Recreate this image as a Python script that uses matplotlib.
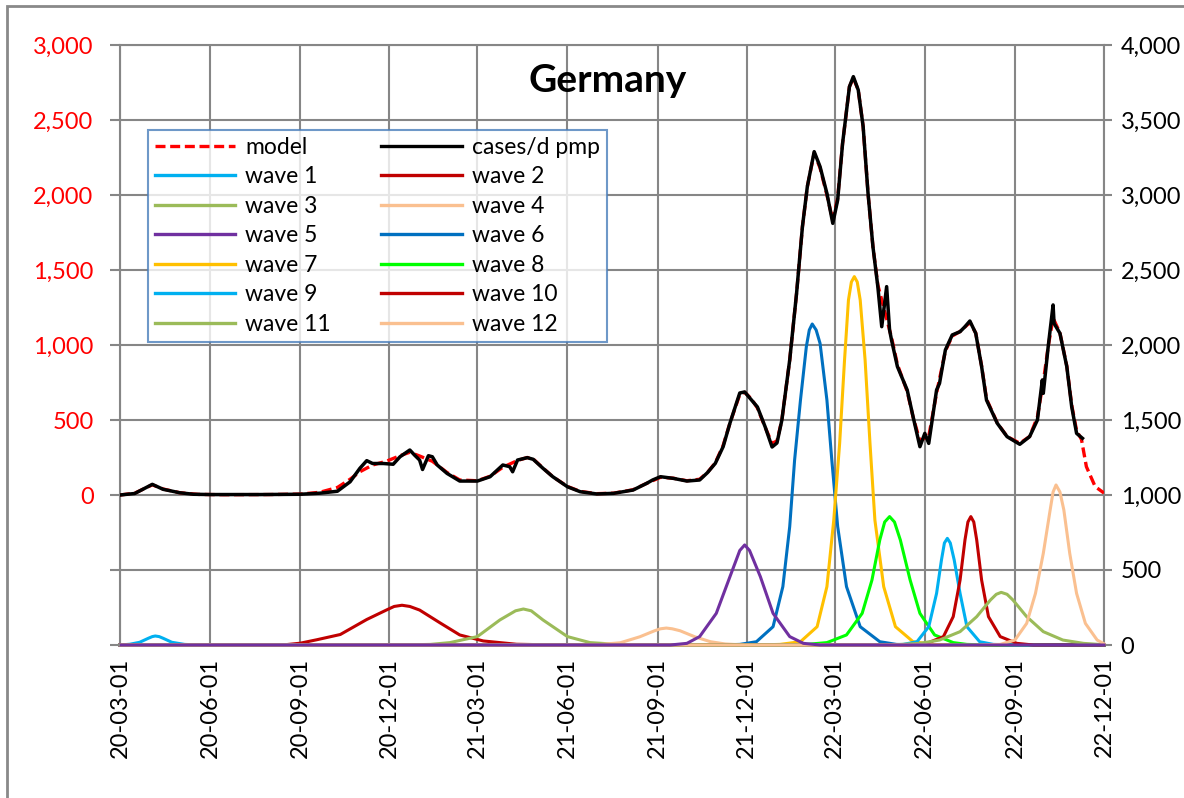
import matplotlib
matplotlib.use("Agg")
import numpy as np
import pandas as pd
import matplotlib.pyplot as plt
import matplotlib.dates as mdates
from matplotlib.ticker import FuncFormatter, MultipleLocator
from matplotlib.lines import Line2D
from matplotlib.patches import Rectangle

plt.rcParams['font.family'] = ['Lato', 'DejaVu Sans']

# ---------------------------------------------------------------------------
# data
# ---------------------------------------------------------------------------
cases_dates = ["2020-03-01", "2020-03-16", "2020-04-03", "2020-04-14", "2020-05-01", "2020-05-15",
               "2020-06-01", "2020-07-22", "2020-09-01", "2020-09-21", "2020-10-09", "2020-10-22",
               "2020-11-01", "2020-11-08", "2020-11-14", "2020-11-25", "2020-12-05", "2020-12-12",
               "2020-12-22", "2020-12-27", "2021-01-01", "2021-01-04", "2021-01-10", "2021-01-14",
               "2021-01-19", "2021-01-29", "2021-02-11", "2021-03-01", "2021-03-14", "2021-03-27",
               "2021-04-03", "2021-04-06", "2021-04-11", "2021-04-21", "2021-04-27", "2021-05-07",
               "2021-05-17", "2021-06-01", "2021-06-14", "2021-07-01", "2021-07-18", "2021-08-07",
               "2021-08-21", "2021-08-27", "2021-09-04", "2021-09-17", "2021-10-01", "2021-10-14",
               "2021-10-22", "2021-10-30", "2021-11-07", "2021-11-14", "2021-11-24", "2021-11-29",
               "2021-12-06", "2021-12-12", "2021-12-20", "2021-12-27", "2022-01-01", "2022-01-06",
               "2022-01-14", "2022-01-21", "2022-01-27", "2022-02-01", "2022-02-08", "2022-02-14",
               "2022-02-21", "2022-02-27", "2022-03-04", "2022-03-09", "2022-03-16", "2022-03-20",
               "2022-03-25", "2022-03-30", "2022-04-04", "2022-04-09", "2022-04-14", "2022-04-18",
               "2022-04-23", "2022-04-26", "2022-04-28", "2022-05-04", "2022-05-14", "2022-05-20",
               "2022-05-27", "2022-06-01", "2022-06-05", "2022-06-13", "2022-06-16", "2022-06-22",
               "2022-06-29", "2022-07-07", "2022-07-12", "2022-07-17", "2022-07-23", "2022-07-29",
               "2022-08-03", "2022-08-14", "2022-08-24", "2022-09-06", "2022-09-16", "2022-09-24",
               "2022-09-29", "2022-09-30", "2022-10-05", "2022-10-10", "2022-10-11", "2022-10-17",
               "2022-10-24", "2022-10-29", "2022-11-03", "2022-11-09"]
cases_vals = [0, 10, 71, 38, 15, 5,
              3, 3, 5, 12, 25, 88,
              178, 229, 210, 210, 205, 255,
              300, 265, 233, 170, 262, 255,
              200, 144, 93, 93, 122, 200,
              189, 155, 233, 249, 238, 178,
              122, 55, 22, 7, 11, 33,
              78, 100, 122, 111, 93, 100,
              149, 211, 322, 480, 680, 687,
              633, 587, 453, 320, 347, 500,
              900, 1344, 1789, 2056, 2289, 2189,
              2011, 1811, 1967, 2344, 2722, 2789,
              2700, 2456, 2011, 1656, 1389, 1122,
              1389, 1100, 1033, 856, 700, 522,
              322, 411, 344, 700, 744, 967,
              1067, 1089, 1122, 1160, 1078, 856,
              633, 478, 389, 338, 389, 500,
              767, 678, 989, 1267, 1144, 1078,
              856, 589, 411, 378]

model_dates = ["2020-03-01", "2020-03-16", "2020-04-03", "2020-04-14", "2020-05-01", "2020-05-20",
               "2020-06-15", "2020-08-01", "2020-09-01", "2020-09-21", "2020-10-09", "2020-10-22",
               "2020-11-01", "2020-11-14", "2020-11-28", "2020-12-12", "2020-12-22", "2021-01-01",
               "2021-01-14", "2021-01-29", "2021-02-11", "2021-03-01", "2021-03-14", "2021-03-27",
               "2021-04-11", "2021-04-21", "2021-04-27", "2021-05-07", "2021-05-17", "2021-06-01",
               "2021-06-14", "2021-07-01", "2021-07-18", "2021-08-07", "2021-08-21", "2021-09-04",
               "2021-09-17", "2021-10-01", "2021-10-14", "2021-10-22", "2021-10-30", "2021-11-07",
               "2021-11-14", "2021-11-24", "2021-11-29", "2021-12-06", "2021-12-12", "2021-12-20",
               "2021-12-27", "2022-01-01", "2022-01-06", "2022-01-14", "2022-01-21", "2022-01-27",
               "2022-02-01", "2022-02-08", "2022-02-14", "2022-02-21", "2022-02-27", "2022-03-04",
               "2022-03-09", "2022-03-16", "2022-03-20", "2022-03-25", "2022-03-30", "2022-04-04",
               "2022-04-09", "2022-04-14", "2022-04-20", "2022-04-28", "2022-05-04", "2022-05-14",
               "2022-05-20", "2022-05-27", "2022-06-01", "2022-06-05", "2022-06-13", "2022-06-22",
               "2022-06-29", "2022-07-07", "2022-07-12", "2022-07-17", "2022-07-23", "2022-07-29",
               "2022-08-03", "2022-08-14", "2022-08-24", "2022-09-06", "2022-09-16", "2022-09-24",
               "2022-10-01", "2022-10-05", "2022-10-10", "2022-10-17", "2022-10-24", "2022-10-29",
               "2022-11-03", "2022-11-08", "2022-11-13", "2022-11-22", "2022-12-01"]
model_vals = [0, 12, 68, 40, 15, 4,
              2, 3, 6, 18, 50, 105,
              155, 200, 225, 262, 285, 260,
              225, 150, 100, 95, 125, 185,
              230, 250, 240, 180, 122, 57,
              24, 9, 12, 35, 78, 118,
              112, 95, 105, 150, 215, 330,
              480, 670, 685, 640, 580, 450,
              345, 360, 500, 900, 1344, 1789,
              2056, 2280, 2180, 2000, 1830, 1980,
              2344, 2722, 2780, 2700, 2456, 2011,
              1656, 1400, 1250, 1050, 870, 690,
              520, 360, 380, 390, 680, 960,
              1060, 1090, 1120, 1150, 1080, 860,
              640, 480, 390, 345, 390, 520,
              800, 990, 1180, 1080, 860, 600,
              430, 370, 189, 56, 13]

wave1_dates = ["2020-03-01", "2020-03-11", "2020-03-21", "2020-03-30", "2020-04-03", "2020-04-06",
               "2020-04-10", "2020-04-14", "2020-04-23", "2020-05-06", "2020-05-22", "2022-12-01"]
wave1_vals = [0, 5, 18, 45, 56, 60, 56, 45, 18, 4, 0, 0]

wave2_dates = ["2020-03-01", "2020-08-14", "2020-09-01", "2020-09-18", "2020-10-12", "2020-11-08",
               "2020-11-29", "2020-12-06", "2020-12-14", "2020-12-22", "2021-01-01", "2021-01-22",
               "2021-02-11", "2021-03-07", "2021-04-10", "2021-05-24", "2022-12-01"]
wave2_vals = [0, 0, 12, 35, 70, 170, 236, 257, 265, 257, 233, 147,
              67, 27, 5, 0, 0]

wave3_dates = ["2020-03-01", "2020-12-12", "2021-01-12", "2021-02-01", "2021-03-01", "2021-03-24",
               "2021-04-09", "2021-04-17", "2021-04-25", "2021-05-07", "2021-06-01", "2021-06-24",
               "2021-07-25", "2021-08-24", "2022-12-01"]
wave3_vals = [0, 0, 4, 16, 56, 167, 228, 240, 228, 167, 56, 16, 3, 0, 0]

wave4_dates = ["2020-03-01", "2021-06-04", "2021-07-04", "2021-07-25", "2021-08-14", "2021-08-29",
               "2021-09-04", "2021-09-10", "2021-09-16", "2021-09-24", "2021-10-09", "2021-10-25",
               "2021-11-09", "2021-11-29", "2022-12-01"]
wave4_vals = [0, 0, 3, 15, 55, 95, 108, 113, 108, 95, 55, 22, 7, 0, 0]

wave5_dates = ["2020-03-01", "2021-09-14", "2021-10-01", "2021-10-14", "2021-10-31", "2021-11-14",
               "2021-11-24", "2021-11-29", "2021-12-04", "2021-12-15", "2021-12-28", "2022-01-14",
               "2022-01-28", "2022-02-14", "2022-12-01"]
wave5_vals = [0, 0, 11, 56, 211, 456, 630, 667, 630, 456, 211, 56, 11, 0, 0]

wave6_dates = ["2020-03-01", "2021-11-01", "2021-11-24", "2021-12-11", "2021-12-28", "2022-01-07",
               "2022-01-14", "2022-01-19", "2022-01-25", "2022-01-31", "2022-02-03", "2022-02-06",
               "2022-02-10", "2022-02-14", "2022-02-21", "2022-02-26", "2022-03-04", "2022-03-13",
               "2022-03-27", "2022-04-16", "2022-05-03", "2022-05-25", "2022-12-01"]
wave6_vals = [0, 0, 4, 22, 122, 389, 789, 1233, 1633, 1989, 2100, 2140,
              2100, 2011, 1633, 1233, 789, 389, 122, 22, 4, 0, 0]

wave7_dates = ["2020-03-01", "2021-12-10", "2022-01-04", "2022-01-25", "2022-02-11", "2022-02-21",
               "2022-02-28", "2022-03-06", "2022-03-11", "2022-03-15", "2022-03-18", "2022-03-21",
               "2022-03-24", "2022-03-27", "2022-04-01", "2022-04-06", "2022-04-11", "2022-04-20",
               "2022-05-02", "2022-05-20", "2022-06-09", "2022-07-01", "2022-12-01"]
wave7_vals = [0, 0, 4, 22, 122, 389, 833, 1344, 1900, 2300, 2420, 2456,
              2420, 2300, 1900, 1344, 833, 389, 122, 22, 4, 0, 0]

wave8_dates = ["2020-03-01", "2022-01-05", "2022-01-31", "2022-02-21", "2022-03-13", "2022-03-29",
               "2022-04-08", "2022-04-16", "2022-04-21", "2022-04-26", "2022-05-01", "2022-05-07",
               "2022-05-17", "2022-05-27", "2022-06-11", "2022-06-30", "2022-07-14", "2022-08-05",
               "2022-12-01"]
wave8_vals = [0, 0, 4, 16, 67, 211, 433, 700, 820, 856, 820, 700,
              433, 211, 67, 16, 4, 0, 0]

wave9_dates = ["2020-03-01", "2022-04-15", "2022-05-10", "2022-05-24", "2022-06-05", "2022-06-13",
               "2022-06-18", "2022-06-21", "2022-06-24", "2022-06-27", "2022-07-01", "2022-07-07",
               "2022-07-14", "2022-07-27", "2022-08-10", "2022-09-01", "2022-12-01"]
wave9_vals = [0, 0, 4, 22, 122, 344, 567, 680, 711, 680, 567, 344,
              122, 22, 4, 0, 0]

wave10_dates = ["2020-03-01", "2022-05-15", "2022-06-03", "2022-06-20", "2022-06-30", "2022-07-07",
                "2022-07-12", "2022-07-15", "2022-07-18", "2022-07-21", "2022-07-24", "2022-07-29",
                "2022-08-05", "2022-08-17", "2022-09-03", "2022-09-20", "2022-12-01"]
wave10_vals = [0, 0, 11, 56, 189, 433, 700, 820, 856, 820, 700, 433,
               189, 56, 11, 0, 0]

wave11_dates = ["2020-03-01", "2022-04-01", "2022-05-03", "2022-05-27", "2022-06-16", "2022-07-07",
                "2022-07-24", "2022-08-07", "2022-08-13", "2022-08-18", "2022-08-24", "2022-08-30",
                "2022-09-13", "2022-09-30", "2022-10-20", "2022-11-10", "2022-11-30", "2022-12-01"]
wave11_vals = [0, 0, 2, 11, 33, 89, 189, 300, 338, 351, 338, 300,
               189, 89, 33, 11, 2, 2]

wave12_dates = ["2020-03-01", "2022-07-20", "2022-08-17", "2022-09-01", "2022-09-13", "2022-09-22",
                "2022-09-30", "2022-10-07", "2022-10-10", "2022-10-13", "2022-10-17", "2022-10-21",
                "2022-10-27", "2022-11-03", "2022-11-12", "2022-11-24", "2022-12-01"]
wave12_vals = [0, 0, 4, 33, 144, 344, 611, 900, 1020, 1067, 1020, 900,
               611, 344, 144, 33, 8]

wave_colors = ['#00B0F0', '#C00000', '#9BBB59', '#FAC090', '#7030A0', '#0070C0',
               '#FFC000', '#00FF00', '#00B0F0', '#C00000', '#9BBB59', '#FAC090']

waves = [(wave1_dates, wave1_vals), (wave2_dates, wave2_vals), (wave3_dates, wave3_vals),
         (wave4_dates, wave4_vals), (wave5_dates, wave5_vals), (wave6_dates, wave6_vals),
         (wave7_dates, wave7_vals), (wave8_dates, wave8_vals), (wave9_dates, wave9_vals),
         (wave10_dates, wave10_vals), (wave11_dates, wave11_vals), (wave12_dates, wave12_vals)]

# ---------------------------------------------------------------------------
W, H = 1184, 798
fig = plt.figure(figsize=(W / 100, H / 100), dpi=100)
L, R, T, B = 120, 1104, 45, 645
ax2 = fig.add_axes([L / W, 1 - B / H, (R - L) / W, (B - T) / H])
ax = ax2.twinx()
ax.yaxis.tick_left()
ax2.yaxis.tick_right()

GRID = '#868686'
FS = 17

# waves on the right-hand scale (purple drawn last so the base line shows purple)
for i, (d, v) in enumerate(waves):
    z = 3 if i == 4 else 2
    ax2.plot(pd.to_datetime(d), v, color=wave_colors[i], lw=2.2, zorder=z,
             solid_joinstyle='round', clip_on=False)

# model and cases on the left-hand scale
ax.plot(pd.to_datetime(model_dates), model_vals, color='#FF0000', lw=2.4,
        linestyle=(0, (3, 1.4)), zorder=3)
ax.plot(pd.to_datetime(cases_dates), cases_vals, color='black', lw=2.5, zorder=4,
        solid_joinstyle='round')

xmin, xmax = pd.Timestamp('2020-03-01'), pd.Timestamp('2022-12-01')
for a in (ax, ax2):
    a.set_xlim(xmin, xmax)
for s in ax.spines.values():
    s.set_visible(False)
for s in ax2.spines.values():
    s.set_color(GRID)
    s.set_linewidth(1.5)
    s.set_zorder(0.5)

ax2.set_ylim(0, 4000)
ax.set_ylim(-1000, 3000)
ax2.yaxis.set_major_locator(MultipleLocator(500))
ax.yaxis.set_major_locator(MultipleLocator(500))
ax2.yaxis.set_major_formatter(FuncFormatter(lambda v, p: f"{int(v):,}"))
ax.yaxis.set_major_formatter(FuncFormatter(lambda v, p: f"{int(v):,}" if v >= 0 else ""))

ax2.xaxis.set_major_locator(mdates.MonthLocator(bymonth=[3, 6, 9, 12], bymonthday=1))
ax2.xaxis.set_major_formatter(mdates.DateFormatter('%y-%m-%d'))
ax2.grid(True, color=GRID, lw=1.5, zorder=0)
ax2.set_axisbelow(True)

ax.tick_params(axis='y', colors=GRID, labelcolor='#FF0000', labelsize=FS, length=7,
               width=1.5, pad=12, left=True, right=False, labelleft=True, labelright=False)
ax2.tick_params(axis='y', colors=GRID, labelcolor='black', labelsize=FS, length=6,
                width=1.5, pad=6, left=False, right=True, labelleft=False, labelright=True)
ax2.tick_params(axis='x', length=0, labelsize=FS, labelcolor='black', pad=9)
ax.tick_params(axis='x', length=0, labelbottom=False)
for lab in ax2.get_xticklabels():
    lab.set_rotation(90)
    lab.set_va('top')
    lab.set_ha('center')

# title
fig.text(608 / W, 1 - 80 / H, 'Germany', fontsize=28, fontweight='bold',
         ha='center', va='center')

# legend, filled row by row like the reference
h_model = Line2D([], [], color='#FF0000', lw=2.4, linestyle=(0, (3, 1.4)))
h_cases = Line2D([], [], color='black', lw=2.4)
h_waves = [Line2D([], [], color=c, lw=2.4) for c in wave_colors]
col1 = [h_model] + h_waves[0::2]
col2 = [h_cases] + h_waves[1::2]
lab1 = ['model'] + [f'wave {k}' for k in range(1, 13, 2)]
lab2 = ['cases/d pmp'] + [f'wave {k}' for k in range(2, 13, 2)]
leg = fig.legend(col1 + col2, lab1 + lab2, ncol=2, loc='upper left',
                 bbox_to_anchor=(148 / W, 1 - 130 / H), bbox_transform=fig.transFigure,
                 borderaxespad=0, fontsize=16.5, frameon=True, fancybox=False,
                 handlelength=3.5, handletextpad=0.45, columnspacing=2.2,
                 labelspacing=0.37, borderpad=0.3)
leg.get_frame().set_edgecolor('#4A7EBB')
leg.get_frame().set_linewidth(1.5)

# outer chart border
fig.patches.append(Rectangle((7 / W, -0.05), 1.1, 1 - 6 / H + 0.05, transform=fig.transFigure,
                             fill=False, edgecolor='#898989', lw=2))

fig.savefig('out.png', dpi=100)
